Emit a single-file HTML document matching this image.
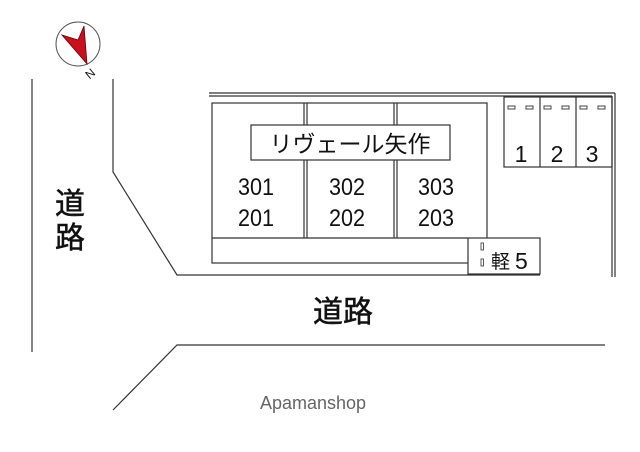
<!DOCTYPE html>
<html><head><meta charset="utf-8"><style>
body{margin:0;background:#fff;width:640px;height:452px;overflow:hidden}
svg{display:block}
text{font-family:"Liberation Sans","Noto Sans CJK JP",sans-serif;fill:#111}
</style></head><body>
<svg width="640" height="452" viewBox="0 0 640 452" xmlns="http://www.w3.org/2000/svg">
<g fill="none" stroke="#333" stroke-width="1.2">
<line x1="32" y1="79" x2="32" y2="352"/>
<polyline points="113,79 113,172 177,275 540,275"/>
<polyline points="113,410 177,345 605,345"/>
<line x1="209" y1="93" x2="615" y2="93"/>
<line x1="209" y1="96" x2="612" y2="96"/>
<line x1="612" y1="96" x2="612" y2="277"/>
<line x1="615" y1="93" x2="615" y2="277"/>
<rect x="212" y="103" width="275" height="160"/>
<line x1="212" y1="238" x2="468" y2="238"/>
<line x1="304" y1="103" x2="304" y2="238"/>
<line x1="307" y1="103" x2="307" y2="238"/>
<line x1="394" y1="103" x2="394" y2="238"/>
<line x1="397" y1="103" x2="397" y2="238"/>
<rect x="251" y="125" width="199" height="35" fill="#fff"/>
<rect x="504" y="97" width="108" height="70"/>
<line x1="540" y1="97" x2="540" y2="167"/>
<line x1="576" y1="97" x2="576" y2="167"/>
<rect x="468" y="238" width="72" height="36" fill="#fff"/>
<rect x="481" y="243" width="2.5" height="7" stroke-width="0.8"/>
<rect x="481" y="259" width="2.5" height="7" stroke-width="0.8"/>
</g>
<g fill="none" stroke="#444" stroke-width="1">
<rect x="508" y="106" width="7" height="3"/><rect x="526" y="106" width="7" height="3"/>
<rect x="544" y="106" width="7" height="3"/><rect x="562" y="106" width="7" height="3"/>
<rect x="580" y="106" width="7" height="3"/><rect x="598" y="106" width="7" height="3"/>
</g>
<circle cx="78" cy="44" r="22" fill="#fff" stroke="#555" stroke-width="1"/>
<polygon points="62,35 78,40 84,26 87,64" fill="#c8101e" stroke="#600" stroke-width="0.8"/>
<text x="86" y="78" font-size="12" transform="rotate(-40 90 74)" font-family="Liberation Serif">N</text>
<text x="350" y="152" font-size="23" text-anchor="middle">リヴェール矢作</text>
<g font-size="24" text-anchor="middle">
<text x="256" y="195" textLength="36" lengthAdjust="spacingAndGlyphs">301</text>
<text x="256" y="226" textLength="36" lengthAdjust="spacingAndGlyphs">201</text>
<text x="347" y="195" textLength="36" lengthAdjust="spacingAndGlyphs">302</text>
<text x="347" y="226" textLength="36" lengthAdjust="spacingAndGlyphs">202</text>
<text x="436" y="195" textLength="36" lengthAdjust="spacingAndGlyphs">303</text>
<text x="436" y="226" textLength="36" lengthAdjust="spacingAndGlyphs">203</text>
</g>
<g font-size="23" text-anchor="middle">
<text x="521" y="162">1</text><text x="557" y="162">2</text><text x="592" y="162">3</text>
</g>
<text x="491" y="268" font-size="19">軽</text>
<text x="515" y="269" font-size="23">5</text>
<g stroke="#111" stroke-width="0.5">
<text x="70" y="214" font-size="30" text-anchor="middle">道</text>
<text x="70" y="248" font-size="30" text-anchor="middle">路</text>
<text x="343" y="322" font-size="30" text-anchor="middle">道路</text>
</g>
<text x="313" y="409" font-size="18" text-anchor="middle" style="fill:#666">Apamanshop</text>
</svg>
</body></html>
